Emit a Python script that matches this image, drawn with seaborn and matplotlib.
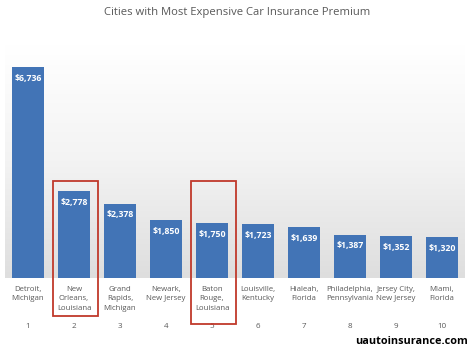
import numpy as np
import pandas as pd
import matplotlib
matplotlib.use("Agg")
import matplotlib.pyplot as plt
import matplotlib.transforms as mtransforms
from matplotlib.colors import LinearSegmentedColormap
from matplotlib.patches import Rectangle
import seaborn as sns

# chart data
ranks = ["1", "2", "3", "4", "5", "6", "7", "8", "9", "10"]
cities = ["Detroit,\nMichigan", "New\nOrleans,\nLouisiana", "Grand\nRapids,\nMichigan",
          "Newark,\nNew Jersey", "Baton\nRouge,\nLouisiana", "Louisville,\nKentucky",
          "Hialeah,\nFlorida", "Philadelphia,\nPennsylvania", "Jersey City,\nNew Jersey",
          "Miami,\nFlorida"]
premiums = [6736, 2778, 2378, 1850, 1750, 1723, 1639, 1387, 1352, 1320]
highlighted = ["2", "5"]

df = pd.DataFrame({"rank": ranks, "city": cities, "premium": premiums})

sns.set_style("white")
plt.rcParams['font.family'] = ['Open Sans', 'DejaVu Sans']

fig = plt.figure(figsize=(4.74, 3.51), dpi=100)
ax = fig.add_axes([5 / 474, (351 - 278) / 351, 460 / 474, 233 / 351])

ymax = 6736 * 233 / 211
# soft grey gradient background, white at the top
grad = np.linspace(0.0, 1.0, 256).reshape(-1, 1)
bg = LinearSegmentedColormap.from_list("bg", ["#ffffff", "#f3f3f3", "#dedede"])
ax.imshow(grad, extent=[-0.5, 9.5, 0, ymax], aspect="auto", cmap=bg,
          vmin=0.0, vmax=1.0, zorder=0, origin="upper")

sns.barplot(data=df, x="rank", y="premium", color="#4274b6", saturation=1, width=0.7, ax=ax,
            zorder=2, linewidth=0)

ax.set_xlim(-0.5, 9.5)
ax.set_ylim(0, ymax)
ax.set_xlabel("")
ax.set_ylabel("")
ax.set_xticks([])
ax.set_yticks([])
for s in ax.spines.values():
    s.set_visible(False)

for i, v in enumerate(premiums):
    ax.annotate("${:,}".format(v), (i, v), xytext=(0, -5), textcoords="offset points",
                ha="center", va="top", color="white", fontsize=6.3, fontweight="bold", zorder=3)

trans = mtransforms.blended_transform_factory(ax.transData, ax.transAxes)
for i, (c, r) in enumerate(zip(cities, ranks)):
    ax.text(i, -0.035, c, transform=trans, ha="center", va="top", fontsize=5.6,
            color="#595959", linespacing=1.45)
    ax.text(i, -0.21, r, transform=trans, ha="center", va="center", fontsize=5.8, color="#595959")

# red boxes around the Louisiana cities
for r, bottom in zip(highlighted, [-0.163, -0.197]):
    i = ranks.index(r)
    ax.add_patch(Rectangle((i - 0.46, bottom), 0.98, 0.416 - bottom, transform=trans,
                           fill=False, edgecolor="#c0392b", linewidth=1.3, clip_on=False, zorder=4))

fig.text(0.5, 1 - 13 / 351, "Cities with Most Expensive Car Insurance Premium",
         ha="center", va="center", fontsize=8.1, color="#595959")
fig.text(468 / 474, 1 - 342 / 351, "uautoinsurance.com", ha="right", va="center",
         fontsize=7.8, fontweight="bold", color="black")

fig.savefig("out.png", dpi=100)
